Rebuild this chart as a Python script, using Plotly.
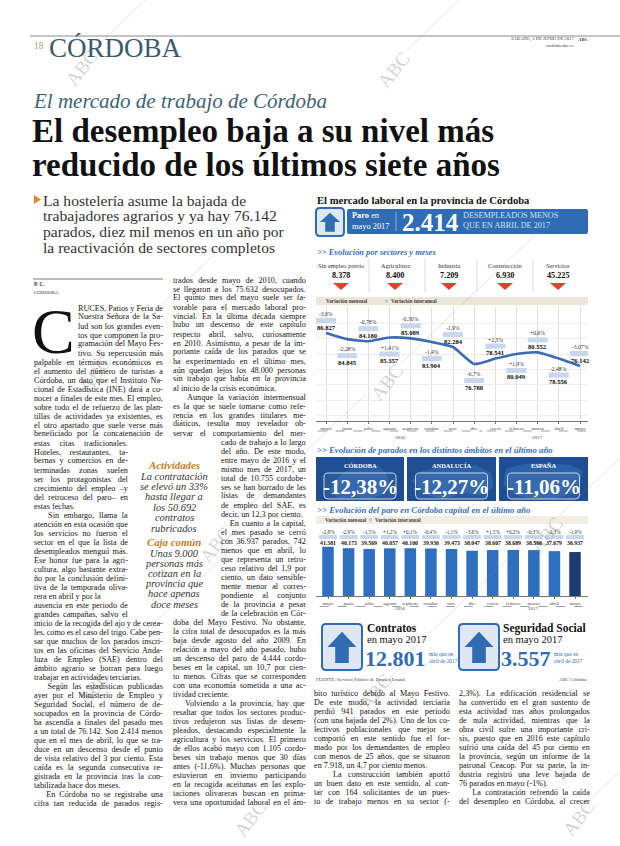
import unicodedata
import plotly.graph_objects as go

W, H = 620, 846
SERIF = "Liberation Serif, DejaVu Serif, serif"
BLUE = "#2f6cb4"
DARK = "#151515"

# ---------------- data ----------------
months = ["mayo", "junio", "julio", "agosto", "septiem.", "octubre", "nov.", "dic.",
          "enero", "febrero", "marzo", "abril", "mayo"]
years = ["2016", "2017"]
prov_parados = [86827, 84845, 84180, 85357, 85089, 83904, 82284, 76788, 78541, 80049, 80552, 78556, 76142]
prov_var_mensual = ["-3,0%", "-2,28%", "-0,78%", "+1,41%", "-0,30%", "-1,4%", "-1,9%", "-6,7%",
                    "+2,3%", "+1,9%", "+0,6%", "-2,48%", "-3,07%"]
cap_parados = [41381, 40173, 39569, 40057, 40100, 39930, 39473, 38047, 38607, 38689, 38568, 37679, 36937]
cap_var_mensual = ["-2,8%", "-2,9%", "-1,5%", "+1,2%", "+0,1%", "-0,4%", "-1,1%", "-3,6%",
                   "+1,5%", "+0,2%", "-0,3%", "-2,3%", "-1,9%"]
sectores = ["Sin empleo previo", "Agricultura", "Industria", "Construcción", "Servicios"]
sector_parados = [8378, 8400, 7209, 6930, 45225]
ambitos = ["CÓRDOBA", "ANDALUCÍA", "ESPAÑA"]
ambito_var = ["-12,38%", "-12,27%", "-11,06%"]
paro_baja_mes = 2414
contratos_mas = 12801
afiliados_mas = 3557


def fmt(n):
    return f"{n:,}".replace(",", ".")


anns, shapes = [], []


def X(x):
    return x / W


def Y(y):
    return 1 - y / H


def T(x, y, s, size=7.6, color=DARK, xa="left", ya="middle", family=SERIF, angle=0):
    anns.append(dict(x=X(x), y=Y(y), xref="paper", yref="paper", text=s, showarrow=False,
                     xanchor=xa, yanchor=ya, textangle=angle, borderpad=0,
                     font=dict(size=size, color=color, family=family)))


def R(x0, y0, x1, y1, fill, line=None, lw=0, layer="below"):
    shapes.append(dict(type="rect", xref="paper", yref="paper", x0=X(x0), x1=X(x1), y0=Y(y1), y1=Y(y0),
                       fillcolor=fill, line=dict(color=line or fill, width=lw), layer=layer))


def L(x0, y0, x1, y1, color, w=1, dash="solid", layer="above"):
    shapes.append(dict(type="line", xref="paper", yref="paper", x0=X(x0), y0=Y(y0), x1=X(x1), y1=Y(y1),
                       line=dict(color=color, width=w, dash=dash), layer=layer))


def P(pts, fill, line=None, lw=0, layer="above"):
    d = "M " + " L ".join(f"{X(a):.5f},{Y(b):.5f}" for a, b in pts) + " Z"
    shapes.append(dict(type="path", xref="paper", yref="paper", path=d, fillcolor=fill,
                       line=dict(color=line or fill, width=lw), layer=layer))


def RR(x0, y0, x1, y1, r, fill, line=None, lw=0, layer="below"):
    def p(a, b):
        return f"{X(a):.5f},{Y(b):.5f}"
    d = (f"M {p(x0 + r, y0)} L {p(x1 - r, y0)} Q {p(x1, y0)} {p(x1, y0 + r)} "
         f"L {p(x1, y1 - r)} Q {p(x1, y1)} {p(x1 - r, y1)} L {p(x0 + r, y1)} "
         f"Q {p(x0, y1)} {p(x0, y1 - r)} L {p(x0, y0 + r)} Q {p(x0, y0)} {p(x0 + r, y0)} Z")
    shapes.append(dict(type="path", xref="paper", yref="paper", path=d, fillcolor=fill,
                       line=dict(color=line or fill, width=lw), layer=layer))


def icon(x0, y0, x1, y1):
    RR(x0, y0, x1, y1, 4, "#dfe7f2", BLUE, 2, layer="above")
    cx = (x0 + x1) / 2
    w = x1 - x0
    h = y1 - y0
    top, mid, bot = y0 + 0.17 * h, y0 + 0.5 * h, y1 - 0.15 * h
    P([(cx - 0.36 * w, mid), (cx, top), (cx + 0.36 * w, mid), (cx + 0.17 * w, mid),
       (cx + 0.17 * w, bot), (cx - 0.17 * w, bot), (cx - 0.17 * w, mid)], BLUE)


# ---- justified body text (Liberation Serif has Times metrics) ----
_TW = {" ": 250, "\u00a0": 250, "!": 333, "%": 833, "(": 333, ")": 333, ",": 250, "-": 333, ".": 250,
       ":": 278, ";": 278, "–": 500, "—": 1000, "'": 180}
for _c in "0123456789":
    _TW[_c] = 500
_TW.update(dict(zip("abcdefghijklmnopqrstuvwxyz",
                    [444, 500, 444, 500, 444, 333, 500, 500, 278, 278, 500, 278, 778, 500, 500, 500, 500,
                     333, 389, 278, 500, 500, 722, 500, 500, 444])))
_TW.update(dict(zip("ABCDEFGHIJKLMNOPQRSTUVWXYZ",
                    [722, 667, 667, 722, 611, 556, 722, 722, 333, 389, 722, 611, 889, 722, 722, 556, 722,
                     667, 556, 611, 722, 722, 944, 722, 722, 611])))


def text_width(s, size):
    tot = 0
    for c in s:
        b = unicodedata.normalize("NFD", c)[0]
        tot += _TW.get(c, _TW.get(b, 500))
    return tot * size / 1000.0


PARA_END = {"estas fechas.", "trabajar en actividades terciarias.", "tabilizada hace dos meses.",
            "al inicio de la crisis económica.", "decir, un 12,3 por ciento.", "tividad creciente.",
            "en 7.918, un 4,7 por ciento menos.", "76 parados en mayo (-1%)."}


def justify(s, target, size):
    w = text_width(s, size)
    extra = target - w
    if extra < 0:
        ls = extra / max(len(s) - 1, 1)
        return f'<span style="letter-spacing:{ls:.3f}px">{s}</span>'
    n_sp = s.count(" ") + s.count("\u00a0")
    if s.strip("\u00a0") in PARA_END or n_sp == 0 or w < 0.75 * target:
        return s
    return f'<span style="word-spacing:{extra / n_sp:.3f}px">{s}</span>'


# ---------------- watermarks ----------------
for cx, cy in [(81, 68), (393, 70), (95, 375), (387, 383), (215, 545), (546, 535),
               (93, 688), (375, 692), (250, 818), (578, 818)]:
    T(cx, cy, "ABC", size=19, color="rgba(150,150,150,0.42)", xa="center", angle=-52)
    L(cx + 14, cy - 20, cx + 150, cy - 150, "rgba(150,150,150,0.32)", 0.8)

# ---------------- page header ----------------
L(30, 36, 620, 36, "#8a8a8a", 1)
T(33, 46, "18", size=9.5, color="#b49d6e")
T(48, 48, "CÓRDOBA", size=27, color="#3b5b6b")
T(575, 39, "SÁBADO, 3 DE JUNIO DE 2017", size=4.6, color="#444", xa="right")
T(590, 39, "<b>ABC</b>", size=4.8, color="#444", xa="right")
T(575, 45, "cordoba.abc.es", size=4.6, color="#444", xa="right")

T(32, 101, "<i>El mercado de trabajo de Córdoba</i>", size=21, color="#3d6373")
T(31, 131, "<b>El desempleo baja a su nivel más</b>", size=33, color="#111")
T(31, 165, "<b>reducido de los últimos siete años</b>", size=33, color="#111")

# subheadline
P([(34, 195), (41, 199.5), (34, 204)], "#e0872e")
for k, s in enumerate(["La hostelería asume la bajada de",
                       "trabajadores agrarios y ya hay 76.142",
                       "parados, diez mil menos en un año por",
                       "la reactivación de sectores completos"]):
    T(42, 200 + 16 * k, s, size=15.6, color="#333")

# byline
L(33, 279, 163, 279, "#555", 0.8)
T(33, 284.5, "<b>P. C.</b>", size=5.5, color="#333")
T(33, 292, "CÓRDOBA", size=5, color="#333")

# ---------------- article text ----------------
IND = "\u00a0\u00a0\u00a0"
PITCH = 9.0
BODY = 8.2


def column(lines, x, y0, width, pitch=PITCH):
    for k, s in enumerate(lines):
        T(x, y0 + k * pitch, justify(s, width, BODY), size=BODY, color=DARK)


T(31, 331, "C", size=64, color="#111")
column(["RUCES, Patios y Feria de", "Nuestra Señora de la Sa-", "lud son los grandes even-",
        "tos que componen la pro-", "gramación del Mayo Fes-", "tivo. Su repercusión más"], 77, 308, 85)
column(["palpable en términos económicos es", "el aumento del número de turistas a",
        "Córdoba, un dato que el Instituto Na-", "cional de Estadística (INE) dará a co-",
        "nocer a finales de este mes. El empleo,", "sobre todo el de refuerzo de las plan-",
        "tillas de actividades ya existentes, es", "el otro apartado que suele verse más",
        "beneficiado por la concatenación de"], 33, 308 + 6 * PITCH, 129)
column(["estas citas tradicionales.", "Hoteles, restaurantes, ta-", "bernas y comercios en de-",
        "terminadas zonas suelen", "ser los protagonistas del", "crecimiento del empleo –y",
        "del retroceso del paro– en", "estas fechas.", IND + "Sin embargo, llama la",
        "atención en esta ocasión que", "los servicios no fueron el", "sector en el que la lista de",
        "desempleados menguó más.", "Ese honor fue para la agri-", "cultura, algo bastante extra-",
        "ño por la conclusión defini-", "tiva de la temporada oliva-", "rera en abril y por la",
        "ausencia en este periodo de", "grandes campañas, salvo el"], 33, 308 + 15 * PITCH, 94)
column(["inicio de la recogida del ajo y de cerea-", "les, como es el caso del trigo. Cabe pen-",
        "sar que muchos de los parados inscri-", "tos en las oficinas del Servicio Anda-",
        "luza de Empleo (SAE) dentro del", "ámbito agrario se borran para luego",
        "trabajar en actividades terciarias.", IND + "Según las estadísticas publicadas",
        "ayer por el Ministerio de Empleo y", "Seguridad Social, el número de de-",
        "socupados en la provincia de Córdo-", "ba ascendía a finales del pasado mes",
        "a un total de 76.142. Son 2.414 menos", "que en el mes de abril, lo que se tra-",
        "duce en un descenso desde el punto", "de vista relativo del 3 por ciento. Esta",
        "caída es la segunda consecutiva re-", "gistrada en la provincia tras la con-",
        "tabilizada hace dos meses.", IND + "En Córdoba no se registraba una",
        "cifra tan reducida de parados regis-"], 33, 308 + 35 * PITCH, 129)

column(["trados desde mayo de 2010, cuando", "se llegaron a los 75.632 desocupados.",
        "El quinto mes del mayo suele ser fa-", "vorable para el mercado laboral pro-",
        "vincial. En la última década siempre", "hubo un descenso de este capítulo",
        "respecto abril, salvo, curiosamente", "en 2010. Asimismo, a pesar de la im-",
        "portante caída de los parados que se", "ha experimentado en el último mes,",
        "aún quedan lejos los 48.000 personas", "sin trabajo que había en la provincia",
        "al inicio de la crisis económica.", IND + "Aunque la variación intermensual",
        "es la que se suele tomarse como refe-", "rencia en los grandes titulares me-",
        "diáticos, resulta muy revelador ob-", "servar el comportamiento del mer-"], 172, 280, 133)
column(["cado de trabajo a lo largo", "del año. De este modo,", "entre mayo de 2016 y el",
        "mismo mes de 2017, un", "total de 10.755 cordobe-", "ses se han borrado de las",
        "listas de demandantes", "de empleo del SAE, es", "decir, un 12,3 por ciento.",
        IND + "En cuanto a la capital,", "el mes pasado se cerró", "con 36.937 parados, 742",
        "menos que en abril, lo", "que representa un retro-", "ceso relativo del 1,9 por",
        "ciento, un dato sensible-", "mente menor al corres-", "pondiente al conjunto",
        "de la provincia a pesar", "de la celebración en Cór-"], 220, 280 + 18 * PITCH, 85)
column(["doba del Mayo Festivo. No obstante,", "la cifra total de desocupados es la más",
        "baja desde agosto del año 2009. En", "relación a mayo del año pasado, hubo",
        "un descenso del paro de 4.444 cordo-", "beses en la capital, un 10,7 por cien-",
        "to menos. Cifras que se corresponden", "con una economía sometida a una ac-",
        "tividad creciente.", IND + "Volviendo a la provincia, hay que",
        "resaltar que todos los sectores produc-", "tivos redujeron sus listas de desem-",
        "pleados, destacando especialmente la", "agricultura y los servicios. El primero",
        "de ellos acabó mayo con 1.105 cordo-", "beses sin trabajo menos que 30 días",
        "antes (-11,6%). Muchas personas que", "estuvieron en invierno participando",
        "en la recogida aceitunas en las explo-", "taciones olivareras buscan en prima-",
        "vera una oportunidad laboral en el ám-"], 172, 280 + 38 * PITCH, 133)

column(["bito turístico debido al Mayo Festivo.", "De este modo, la actividad terciaria",
        "perdió 941 parados en este periodo", "(con una bajada del 2%). Uno de los co-",
        "lectivos poblacionales que mejor se", "comportó en este sentido fue el for-",
        "mado por los demandantes de empleo", "con menos de 25 años, que se situaron",
        "en 7.918, un 4,7 por ciento menos.", IND + "La construcción también aportó",
        "un buen dato en este sentido, al con-", "tar con 164 solicitantes de un pues-",
        "to de trabajo menos en su sector (-"], 313, 693, 136)
column(["2,3%). La edificación residencial se", "ha convertido en el gran sustento de",
        "esta actividad tras años prolongados", "de nula actividad, mientras que la",
        "obra civil sufre una importante cri-", "sis, puesto que en 2016 este capítulo",
        "sufrió una caída del 45 por ciento en", "la provincia, según un informe de la",
        "patronal Ceacop. Por su parte, la in-", "dustria registró una leve bajada de",
        "76 parados en mayo (-1%).", IND + "La contratación refrendó la caída",
        "del desempleo en Córdoba, al crecer"], 458, 693, 131)

# pull quote
ORANGE = "#c27d2a"
PQX = 174
T(PQX, 465, "<b><i>Actividades</i></b>", size=10.8, color=ORANGE, xa="center")
for k, s in enumerate(["La contratación", "se elevó un 33%", "hasta llegar a", "los 50.692",
                       "contratos", "rubricados"]):
    T(PQX, 476 + 10.4 * k, f"<i>{s}</i>", size=10.4, color="#333", xa="center")
T(PQX, 542, "<b><i>Caja común</i></b>", size=10.8, color=ORANGE, xa="center")
for k, s in enumerate(["Unas 9.000", "personas más", "cotizan en la", "provincia que",
                       "hace apenas", "doce meses"]):
    T(PQX, 553 + 10.2 * k, f"<i>{s}</i>", size=10.4, color="#333", xa="center")

# ---------------- infographic ----------------
T(316, 200, "<b>El mercado laboral en la provincia de Córdoba</b>", size=10.6, color="#111")
icon(316, 208, 344, 236)
RR(347, 209, 588, 234, 2, BLUE)
T(351, 216, "<b>Paro</b> en", size=8.4, color="white")
T(351, 226, "mayo 2017", size=8.4, color="white")
L(396, 212, 396, 231, "rgba(255,255,255,0.6)", 0.8)
T(401, 222, f"<b>{fmt(paro_baja_mes)}</b>", size=25, color="white")
T(462, 216, "DESEMPLEADOS MENOS", size=8.2, color="#cfe0f5")
T(462, 225.5, "QUE EN ABRIL DE 2017", size=8.2, color="#cfe0f5")

T(316, 252, "<b><i>&gt;&gt; Evolución por sectores y meses</i></b>", size=8.4, color="#3a70b8")
sector_cx = [341, 395, 449, 505, 558]
for xd in [369, 425, 477, 533]:
    L(xd, 259, xd, 292, "#d0d0d0", 0.8)
for cx, name, val in zip(sector_cx, sectores, sector_parados):
    T(cx, 265, name, size=6.3, color="#333", xa="center")
    T(cx, 275, f"<b>{fmt(val)}</b>", size=8.2, color="#111", xa="center")
    P([(cx - 8, 283), (cx + 8, 283), (cx, 290)], "#e2412f")

# line chart legend
R(316, 297, 588, 305, "#ebe6d8")
R(320, 299.5, 323, 302.5, "#e8e8e8", layer="above")
T(325, 301, "<b>Variación mensual</b>", size=5.2, color="#444")
R(385, 299.5, 388, 302.5, "#b9cbe6", layer="above")
T(390, 301, "<b>Variación interanual</b>", size=5.2, color="#444")

# line chart traces
fig = go.Figure()
fig.add_trace(go.Scatter(x=list(range(len(months))), y=prov_parados, mode="lines",
                         line=dict(color="#3b6cb3", width=2.6, shape="spline", smoothing=0.5),
                         hoverinfo="skip", xaxis="x", yaxis="y"))
for i, (v, pct) in enumerate(zip(prov_parados, prov_var_mensual)):
    above = (i % 2 == 0)
    if above:
        pv, vb0, vb1, vv = 19, 10, 15, 6
    else:
        pv, vb0, vb1, vv = -10, -19, -14, -23
    anns.append(dict(x=i, y=v, xref="x", yref="y", yshift=pv, text=pct, showarrow=False,
                     font=dict(size=5.6, color="#333", family=SERIF)))
    anns.append(dict(x=i, y=v, xref="x", yref="y", yshift=vv, text=f"<b>{fmt(v)}</b>", showarrow=False,
                     font=dict(size=6.6, color="#111", family=SERIF)))
    shapes.append(dict(type="rect", xref="x", yref="y", xsizemode="pixel", ysizemode="pixel",
                       xanchor=i, yanchor=v, x0=-10, x1=10, y0=vb0, y1=vb1,
                       fillcolor="#c8d7ee", line=dict(width=0), layer="above"))

# year markers under line chart
for (a, b, lab) in [(-0.4, 7.4, years[0]), (7.6, 12.4, years[1])]:
    shapes.append(dict(type="line", xref="x", yref="paper", x0=a, x1=b, y0=Y(431), y1=Y(431),
                       line=dict(color="#777", width=0.7, dash="dash")))
    anns.append(dict(x=(a + b) / 2, y=Y(437), xref="x", yref="paper", text=lab, showarrow=False,
                     font=dict(size=5, color="#444", family=SERIF)))

# percentage boxes (with a lighter map silhouette in each)
T(316, 450, "<b><i>&gt;&gt; Evolución de parados en los distintos ámbitos en el último año</i></b>",
  size=8.7, color="#3a70b8")
silhouettes = [
    [(-30, 10), (-24, -2), (-14, -10), (-4, -14), (8, -12), (18, -16), (26, -8), (30, 4), (22, 14),
     (10, 18), (-6, 16), (-20, 18)],
    [(-40, 0), (-30, -10), (-12, -14), (6, -12), (24, -16), (40, -8), (42, 6), (30, 14), (10, 12),
     (-8, 18), (-26, 14)],
    [(-38, -12), (-20, -17), (4, -18), (26, -16), (40, -10), (36, 2), (28, 12), (12, 18), (-10, 18),
     (-28, 14), (-40, 4)],
]
for (x0, x1), name, val, sil in zip([(316, 404), (407, 496), (499, 588)], ambitos, ambito_var, silhouettes):
    R(x0, 457, x1, 501, "#1f4f93")
    cx = (x0 + x1) / 2
    P([(cx + a, 481 + b) for a, b in sil], "#2b61a8", layer="below")
    RR(cx - 36, 473, cx + 36, 499, 4, "rgba(255,255,255,0.06)", "rgba(255,255,255,0.75)", 1, layer="above")
    T(cx, 465.5, f"<b>{name}</b>", size=6.4, color="white", xa="center")
    T(cx, 487, f"<b>{val}</b>", size=21, color="white", xa="center")

# bar chart
T(316, 510, "<b><i>&gt;&gt; Evolución del paro en Córdoba capital en el último año</i></b>",
  size=8.8, color="#3a70b8")
R(316, 516, 588, 524, "#f1eee5")
R(319, 518.5, 322, 521.5, "#e8e8e8", layer="above")
T(324, 520, "<b>Variación mensual</b>", size=5.2, color="#444")
R(369, 518.5, 372, 521.5, "#b9cbe6", layer="above")
T(374, 520, "<b>Variación interanual</b>", size=5.2, color="#444")

bar_colors = ["#2f6fc0"] * (len(cap_parados) - 1) + ["#1d3c73"]
fig.add_trace(go.Bar(x=list(range(len(months))), y=cap_parados, marker=dict(color=bar_colors, line=dict(width=0)),
                     width=0.56, hoverinfo="skip", xaxis="x2", yaxis="y2"))
for i, (v, pct) in enumerate(zip(cap_parados, cap_var_mensual)):
    anns.append(dict(x=i, y=Y(531.5), xref="x2", yref="paper", text=pct, showarrow=False,
                     font=dict(size=5.2, color="#333", family=SERIF)))
    shapes.append(dict(type="rect", xref="x2", yref="paper", xsizemode="pixel", xanchor=i, x0=-9, x1=9,
                       y0=Y(539), y1=Y(535), fillcolor="#c8d7ee", line=dict(width=0), layer="above"))
    anns.append(dict(x=i, y=Y(542.5), xref="x2", yref="paper", text=f"<b>{fmt(v)}</b>", showarrow=False,
                     font=dict(size=5.8, color="#111", family=SERIF)))
for (a, b, lab) in [(-0.4, 7.4, years[0]), (7.6, 12.4, years[1])]:
    shapes.append(dict(type="line", xref="x2", yref="paper", x0=a, x1=b, y0=Y(606.5), y1=Y(606.5),
                       line=dict(color="#777", width=0.7, dash="dash")))
    anns.append(dict(x=(a + b) / 2, y=Y(612.5), xref="x2", yref="paper", text=lab, showarrow=False,
                     font=dict(size=5, color="#444", family=SERIF)))

# bottom boxes
icon(322, 624, 362, 670)
T(366, 628, "<b>Contratos</b>", size=11.5, color="#111")
T(366, 639, "en mayo 2017", size=10.5, color="#111")
T(364, 658, f"<b>{fmt(contratos_mas)}</b>", size=22, color=BLUE)
T(428, 654, "más que en", size=5.4, color=BLUE)
T(428, 661, "abril de 2017", size=5.4, color=BLUE)
icon(459, 624, 499, 670)
T(502, 628, "<b>Seguridad Social</b>", size=11.5, color="#111")
T(502, 639, "en mayo 2017", size=10.5, color="#111")
T(500, 658, f"<b>{fmt(afiliados_mas)}</b>", size=22, color=BLUE)
T(553, 654, "más que en", size=5.4, color=BLUE)
T(553, 661, "abril de 2017", size=5.4, color=BLUE)
T(315, 679, "FUENTE: Servicio Público de Empleo Estatal", size=4.8, color="#444")
T(588, 679, "ABC Córdoba", size=4.8, color="#444", xa="right")

# ---------------- layout ----------------
step1 = (580 - 326) / 12
step2 = (575 - 328) / 12
fig.update_layout(
    width=W, height=H, margin=dict(l=0, r=0, t=0, b=0),
    paper_bgcolor="white", plot_bgcolor="rgba(0,0,0,0)", showlegend=False,
    annotations=anns, shapes=shapes,
    xaxis=dict(domain=[X(316), X(588)], range=[-(326 - 316) / step1, 12 + (588 - 580) / step1],
               tickmode="array", tickvals=list(range(13)), ticktext=months,
               tickfont=dict(size=5, color="#444", family=SERIF), showgrid=True, gridcolor="#d6d6d6",
               gridwidth=0.8, zeroline=False, showline=True, linecolor="#777", linewidth=1,
               ticks="outside", ticklen=2, tickcolor="#777", anchor="y", fixedrange=True),
    yaxis=dict(domain=[Y(421), Y(307)], range=[58330, 95250], showticklabels=False, showgrid=True,
               gridcolor="#ededed", dtick=5000, zeroline=False, anchor="x", fixedrange=True),
    xaxis2=dict(domain=[X(316), X(588)], range=[-(328 - 316) / step2, 12 + (588 - 575) / step2],
                tickmode="array", tickvals=list(range(13)), ticktext=months,
                tickfont=dict(size=5, color="#444", family=SERIF), showgrid=False, zeroline=False,
                showline=True, linecolor="#777", linewidth=1, ticks="outside", ticklen=2, tickcolor="#777",
                anchor="y2", fixedrange=True),
    yaxis2=dict(domain=[Y(596), Y(546)], range=[0, 42000], showticklabels=False, showgrid=False,
                zeroline=False, anchor="x2", fixedrange=True),
)

fig.write_html("out.html", config={"displayModeBar": False, "staticPlot": True},
               post_script="document.body.style.margin='0';document.body.style.padding='0';")

# remove the default page margin so the figure starts at the window's top-left corner
with open("out.html", encoding="utf-8") as f:
    html = f.read()
html = html.replace("<head>", "<head><style>html,body{margin:0;padding:0;overflow:hidden;}</style>", 1)
with open("out.html", "w", encoding="utf-8") as f:
    f.write(html)
